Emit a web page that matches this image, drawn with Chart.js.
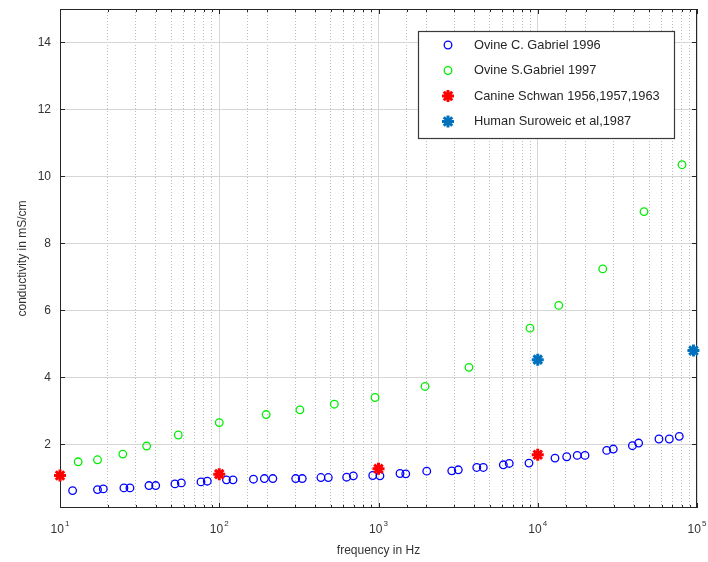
<!DOCTYPE html>
<html>
<head>
<meta charset="utf-8">
<script src="https://cdn.jsdelivr.net/npm/chart.js@4.4.1/dist/chart.umd.min.js"></script>
<style>
    html, body { margin: 0; padding: 0; background: #fff; }
    #wrap { width: 708px; height: 562px; }
</style>
</head>
<body>
<div id="wrap"><canvas id="condChart"></canvas></div>
<script>
// Ovine C. Gabriel 1996
const ovineCFreq = [12, 17.2, 18.7, 25.2, 27.5, 36.2, 39.9, 52.7, 57.8, 76.8, 84.1, 111, 122, 164, 192,
    217, 302, 332, 435, 484, 631, 695, 920, 1021, 1365, 1483, 2009, 2884, 3170, 4140,
    4550, 6080, 6620, 8810, 12830, 15200, 17700, 19800, 27100, 29800, 39300, 43000, 57700, 67000, 77400];
const ovineCVals = [0.62, 0.65, 0.67, 0.70, 0.70, 0.77, 0.77, 0.82, 0.85, 0.88, 0.90, 0.94, 0.94, 0.96, 0.98,
    0.98, 0.98, 0.98, 1.01, 1.01, 1.02, 1.06, 1.07, 1.06, 1.13, 1.12, 1.20, 1.21, 1.24, 1.31,
    1.31, 1.39, 1.43, 1.44, 1.59, 1.63, 1.67, 1.67, 1.82, 1.86, 1.96, 2.04, 2.16, 2.16, 2.24];

// Ovine S.Gabriel 1997
const ovineSFreq = [13.0, 17.2, 24.8, 35.0, 55.3, 100, 197, 321, 528, 951, 1960, 3700, 8940, 13550, 25600, 46500, 80500];
const ovineSVals = [1.48, 1.54, 1.71, 1.95, 2.28, 2.65, 2.89, 3.03, 3.20, 3.40, 3.73, 4.30, 5.47, 6.15, 7.24, 8.95, 10.35];

// Canine Schwan
const canineFreq = [10, 100, 1000, 10000];
const canineVals = [1.07, 1.11, 1.27, 1.69];

// Human Suroweic
const humanFreq = [10000, 95000];
const humanVals = [4.53, 4.80];

const yTicks = [2, 4, 6, 8, 10, 12, 14];

const FONT = '"Liberation Sans", Arial, Helvetica, sans-serif';

function toPoints(xs, ys) {
    return xs.map((x, i) => ({ x: x, y: ys[i] }));
}

function isDecade(v) {
    const l = Math.log10(v);
    return Math.abs(l - Math.round(l)) < 1e-9;
}

// frame, inward ticks, decade labels and the boxed legend
const frameAndLegend = {
    id: 'frameAndLegend',
    beforeDatasetsDraw(chart) {
        const { ctx, chartArea: a, scales } = chart;
        ctx.save();
        ctx.strokeStyle = '#262626';
        ctx.lineWidth = 1;
        ctx.strokeRect(a.left + 0.5, a.top + 0.5, a.right - a.left - 1, a.bottom - a.top - 1);
        ctx.beginPath();
        scales.x.ticks.forEach(t => {
            const px = Math.round(scales.x.getPixelForValue(t.value)) + 0.5;
            const len = isDecade(t.value) ? 5 : 3;
            ctx.moveTo(px, a.bottom); ctx.lineTo(px, a.bottom - len);
            ctx.moveTo(px, a.top); ctx.lineTo(px, a.top + len);
        });
        scales.y.ticks.forEach(t => {
            const py = Math.round(scales.y.getPixelForValue(t.value)) + 0.5;
            ctx.moveTo(a.left, py); ctx.lineTo(a.left + 5, py);
            ctx.moveTo(a.right, py); ctx.lineTo(a.right - 5, py);
        });
        ctx.stroke();

        // 10^n labels with raised exponent
        ctx.fillStyle = '#333';
        ctx.textBaseline = 'alphabetic';
        ctx.textAlign = 'left';
        scales.x.ticks.forEach(t => {
            if (!isDecade(t.value)) return;
            const px = scales.x.getPixelForValue(t.value);
            const exp = String(Math.round(Math.log10(t.value)));
            ctx.font = '12px ' + FONT;
            const wBase = ctx.measureText('10').width;
            ctx.font = '8px ' + FONT;
            const wExp = ctx.measureText(exp).width;
            const x0 = px - (wBase + wExp + 1) / 2;
            ctx.font = '12px ' + FONT;
            ctx.fillText('10', x0, a.bottom + 25);
            ctx.font = '8px ' + FONT;
            ctx.fillText(exp, x0 + wBase + 1, a.bottom + 18);
        });
        ctx.restore();
    },
    afterDraw(chart) {
        const { ctx } = chart;
        const box = { left: 418, top: 31, width: 256, height: 107 };
        ctx.save();
        ctx.fillStyle = '#fff';
        ctx.fillRect(box.left, box.top, box.width, box.height);
        ctx.strokeStyle = '#3a3a3a';
        ctx.lineWidth = 1.2;
        ctx.strokeRect(box.left + 0.5, box.top + 0.5, box.width, box.height);
        chart.data.datasets.forEach((ds, i) => {
            const y = box.top + 14 + i * 25.5;
            ctx.strokeStyle = ds.borderColor;
            ctx.fillStyle = ds.backgroundColor;
            ctx.lineWidth = ds.borderWidth;
            Chart.helpers.drawPoint(ctx, {
                pointStyle: ds.pointStyle,
                radius: ds.pointRadius,
                rotation: 0,
                borderWidth: ds.borderWidth
            }, box.left + 30, y);
            ctx.fillStyle = '#262626';
            ctx.font = '12.8px ' + FONT;
            ctx.textBaseline = 'middle';
            ctx.fillText(ds.label, box.left + 56, y);
        });
        ctx.restore();
    }
};

const ctx = document.getElementById('condChart').getContext('2d');
const condChart = new Chart(ctx, {
    type: 'scatter',
    data: {
        datasets: [
            {
                label: 'Ovine C. Gabriel 1996',
                data: toPoints(ovineCFreq, ovineCVals),
                pointStyle: 'circle',
                pointRadius: 3.8,
                borderWidth: 1.3,
                borderColor: '#0000ff',
                backgroundColor: 'rgba(0,0,0,0)',
                clip: false,
                order: 2
            },
            {
                label: 'Ovine S.Gabriel 1997',
                data: toPoints(ovineSFreq, ovineSVals),
                pointStyle: 'circle',
                pointRadius: 3.8,
                borderWidth: 1.3,
                borderColor: '#00ee00',
                backgroundColor: 'rgba(0,0,0,0)',
                clip: false,
                order: 2
            },
            {
                label: 'Canine Schwan 1956,1957,1963',
                data: toPoints(canineFreq, canineVals),
                pointStyle: 'star',
                pointRadius: 6,
                borderWidth: 3,
                borderColor: '#ff0000',
                backgroundColor: '#ff0000',
                clip: false,
                order: 1
            },
            {
                label: 'Human Suroweic et al,1987',
                data: toPoints(humanFreq, humanVals),
                pointStyle: 'star',
                pointRadius: 6,
                borderWidth: 3,
                borderColor: '#0072bd',
                backgroundColor: '#0072bd',
                clip: false,
                order: 1
            }
        ]
    },
    options: {
        responsive: true,
        maintainAspectRatio: false,
        animation: false,
        layout: {
            padding: { top: 8, right: 11, left: 11, bottom: 0 }
        },
        plugins: {
            legend: { display: false },
            tooltip: { enabled: false }
        },
        scales: {
            x: {
                type: 'logarithmic',
                min: 10,
                max: 100000,
                afterFit: scale => {
                    scale.height = 54;
                    scale.paddingLeft = 0;
                    scale.paddingRight = 0;
                },
                grid: {
                    drawTicks: false,
                    color: c => (c.tick && isDecade(c.tick.value)) ? '#d6d6d6' : '#bdbdbd',
                    lineWidth: 1
                },
                border: {
                    display: false,
                    dash: c => (c.tick && !isDecade(c.tick.value)) ? [1, 2] : []
                },
                ticks: { display: false, autoSkip: false },
                title: {
                    display: true,
                    text: 'frequency in Hz',
                    color: '#333',
                    font: { family: FONT, size: 12 }
                }
            },
            y: {
                min: 0.1,
                max: 15,
                afterFit: scale => {
                    scale.width = 49;
                    scale.paddingTop = 0;
                    scale.paddingBottom = 0;
                },
                afterBuildTicks: scale => { scale.ticks = yTicks.map(v => ({ value: v })); },
                grid: { drawTicks: false, color: '#d6d6d6', lineWidth: 1 },
                border: { display: false },
                ticks: {
                    color: '#333',
                    padding: 9,
                    font: { family: FONT, size: 12 }
                },
                title: {
                    display: true,
                    text: 'conductivity in mS/cm',
                    color: '#333',
                    font: { family: FONT, size: 12 }
                }
            }
        }
    },
    plugins: [frameAndLegend]
});
</script>
</body>
</html>
